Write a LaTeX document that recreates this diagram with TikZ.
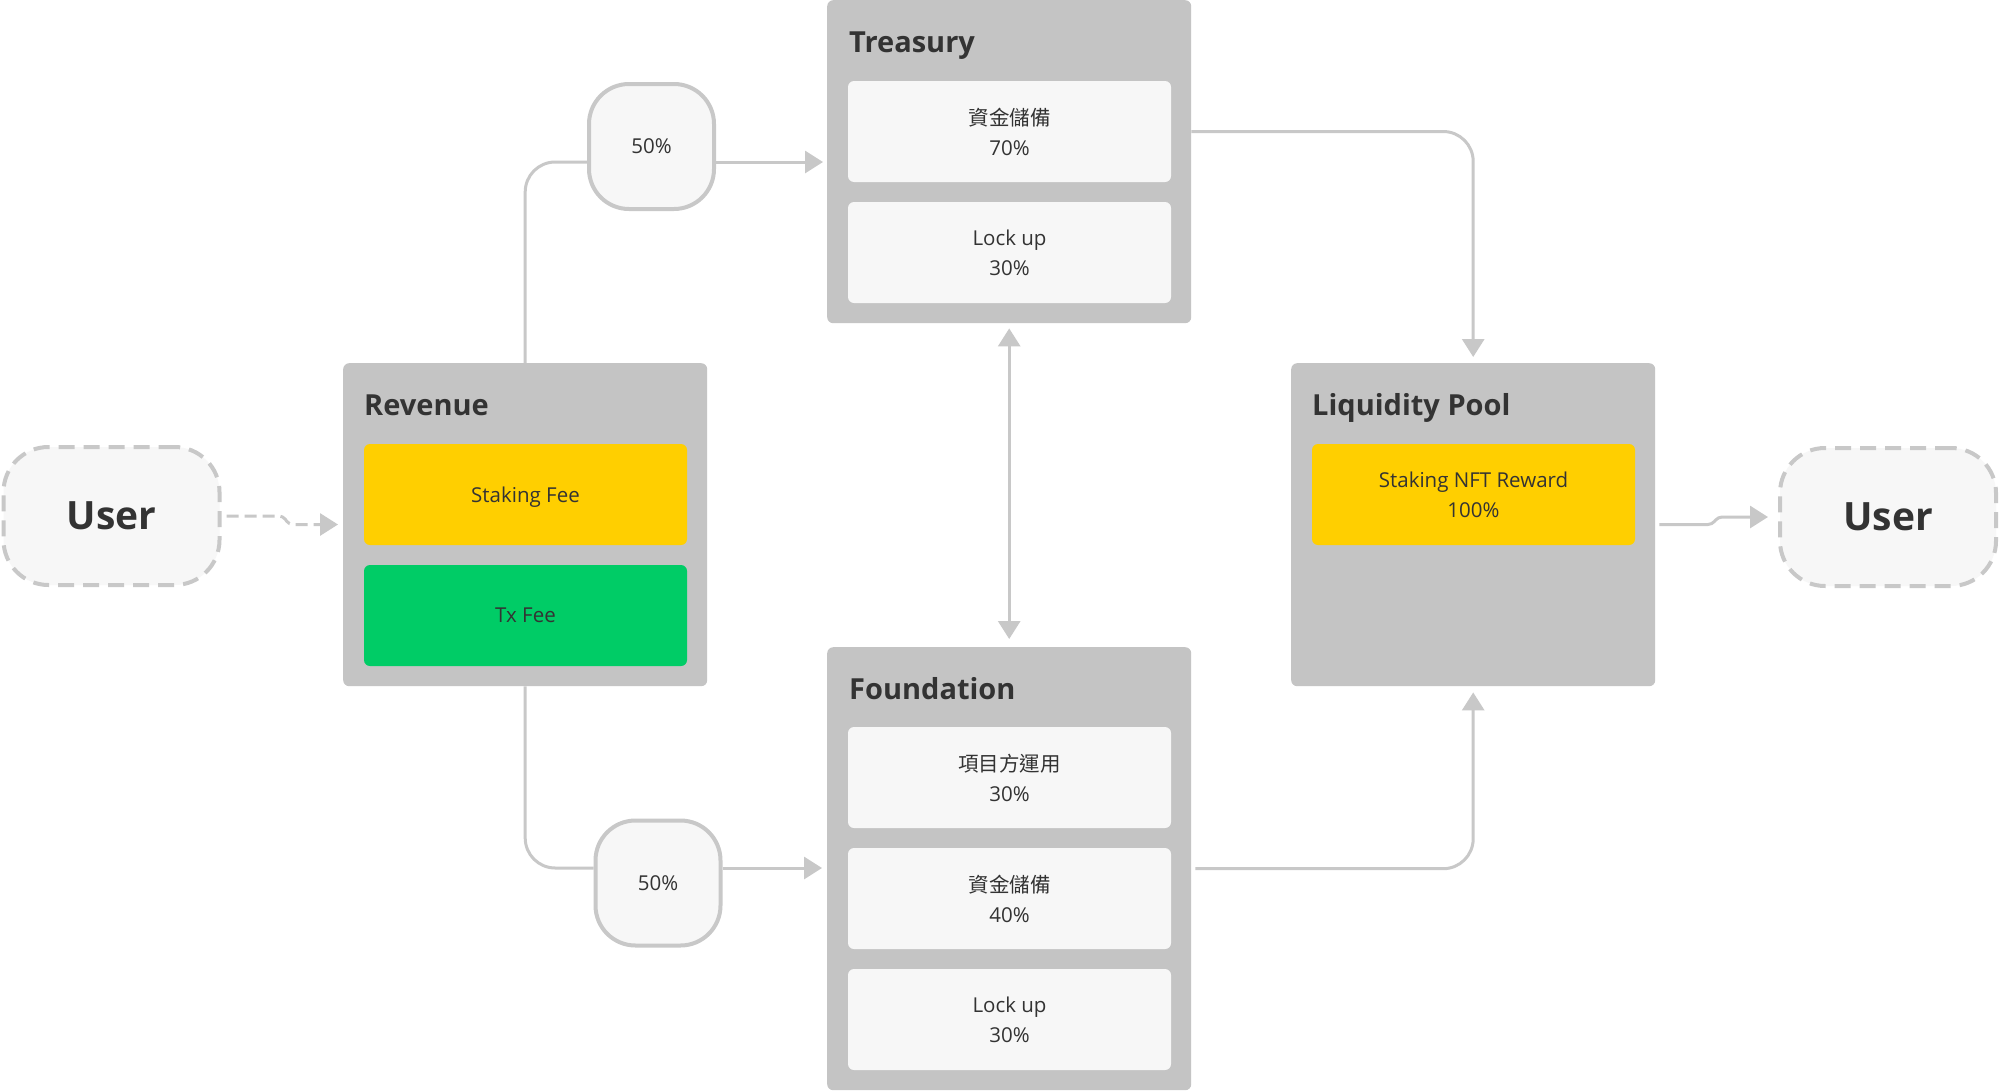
\documentclass[tikz,border=0pt]{standalone}
\usepackage{fontspec}
\setmainfont{Open Sans}
\newfontfamily\cjk{Noto Sans CJK TC}
\usetikzlibrary{arrows.meta,calc}
\definecolor{boxgray}{HTML}{C4C4C4}
\definecolor{cardbg}{HTML}{F7F7F7}
\definecolor{linegray}{HTML}{C8C8C8}
\definecolor{txt}{HTML}{333333}
\definecolor{yel}{HTML}{FFCF00}
\definecolor{grn}{HTML}{00CC66}
\begin{document}
\begin{tikzpicture}[x=1pt,y=-1pt,
  panel/.style={fill=boxgray, rounded corners=6pt, minimum width=364pt, inner sep=0pt, anchor=north west},
  card/.style={fill=cardbg, rounded corners=6pt, minimum width=323pt, minimum height=101pt, inner sep=0pt, text=txt, font=\fontsize{20.5}{30}\selectfont, align=center},
  ptitle/.style={anchor=base west, text=txt, font=\fontsize{29}{36}\selectfont\bfseries, inner sep=0pt},
  pct/.style={fill=cardbg, draw=linegray, line width=4pt, rounded corners=40pt, minimum width=125pt, minimum height=125pt, inner sep=0pt, text=txt, font=\fontsize{20.5}{25}\selectfont},
  usr/.style={fill=cardbg, draw=linegray, line width=4pt, dash pattern=on 16pt off 9pt, rounded corners=45pt, minimum width=216pt, minimum height=138pt, inner sep=0pt, text=txt, font=\fontsize{39}{48}\selectfont\bfseries},
  conn/.style={draw=linegray, line width=3pt, rounded corners=30pt},
  tip/.style={-{Triangle[length=18pt,width=22pt]}},
]
\useasboundingbox (0,0) rectangle (2000,1090);
\fill[white] (0,0) rectangle (2000,1090);

% panels
\node[panel, minimum height=323pt] (rev) at (343,363) {};
\node[ptitle] (revt) at (364,415) {Revenue};
\node[card, fill=yel, text depth=0pt] (stk) at (525.5,494.5) {Staking Fee};
\node[card, fill=grn, text depth=0pt] (txf) at (525.5,615.5) {Tx Fee};

\node[panel, minimum height=323pt] (treas) at (827,0) {};
\node[ptitle] (treast) at (849,52) {Treasury};
\node[card] (t1) at (1009.5,131.5) {{\cjk 資金儲備}\\70\%};
\node[card] (t2) at (1009.5,252.5) {Lock up\\30\%};

\node[panel, minimum height=443pt] (fnd) at (827,647) {};
\node[ptitle] (fndt) at (849,699) {Foundation};
\node[card] (f1) at (1009.5,777.5) {{\cjk 項目方運用}\\30\%};
\node[card] (f2) at (1009.5,898.5) {{\cjk 資金儲備}\\40\%};
\node[card] (f3) at (1009.5,1019.5) {Lock up\\30\%};

\node[panel, minimum height=323pt] (lp) at (1291,363) {};
\node[ptitle] (lpt) at (1312,415) {Liquidity Pool};
\node[card, fill=yel] (lp1) at (1473.5,494.5) {Staking NFT Reward\\100\%};

% percent nodes
\node[pct] (p1) at (651.5,146.5) {50\%};
\node[pct] (p2) at (658,883) {50\%};

% users
\node[usr] (u1) at (111.5,516) {User};
\node[usr] (u2) at (1888,517) {User};

% connectors
\coordinate (p1in) at ($(p1.west)+(0,15.5)$);
\draw[conn] (rev.north) |- (p1in);
\draw[conn, tip, shorten >=4pt] (p1.east |- p1in) -- (treas.west |- p1in);

\coordinate (p2in) at ($(p2.west)+(0,-15)$);
\draw[conn] (rev.south) |- (p2in);
\draw[conn, tip, shorten >=5pt] (p2.east |- p2in) -- (fnd.west |- p2in);

\draw[conn, tip, shorten >=6pt] (treas.east |- t1) -| (lp.north);
\draw[conn, tip, shorten >=6pt, shorten <=4pt] (fnd.east) -| (lp.south);

\draw[conn, {Triangle[length=18pt,width=22pt]}-{Triangle[length=18pt,width=22pt]}, shorten <=5pt, shorten >=8pt] (treas.south) -- (fnd.north);

\coordinate (j1) at (283,516);
\coordinate (j2) at (289,524.5);
\draw[conn, rounded corners=4pt, dash pattern=on 12pt off 6pt, tip, shorten <=5pt, shorten >=5pt] (u1.east) -- (j1) -- (j2) -- (rev.west |- j2);

\coordinate (k1) at (1712,524.5);
\coordinate (k2) at (1718,517);
\draw[conn, rounded corners=4pt, tip, shorten <=4pt, shorten >=10pt] (lp.east |- k1) -- (k1) -- (k2) -- (u2.west |- k2);
\end{tikzpicture}
\end{document}
